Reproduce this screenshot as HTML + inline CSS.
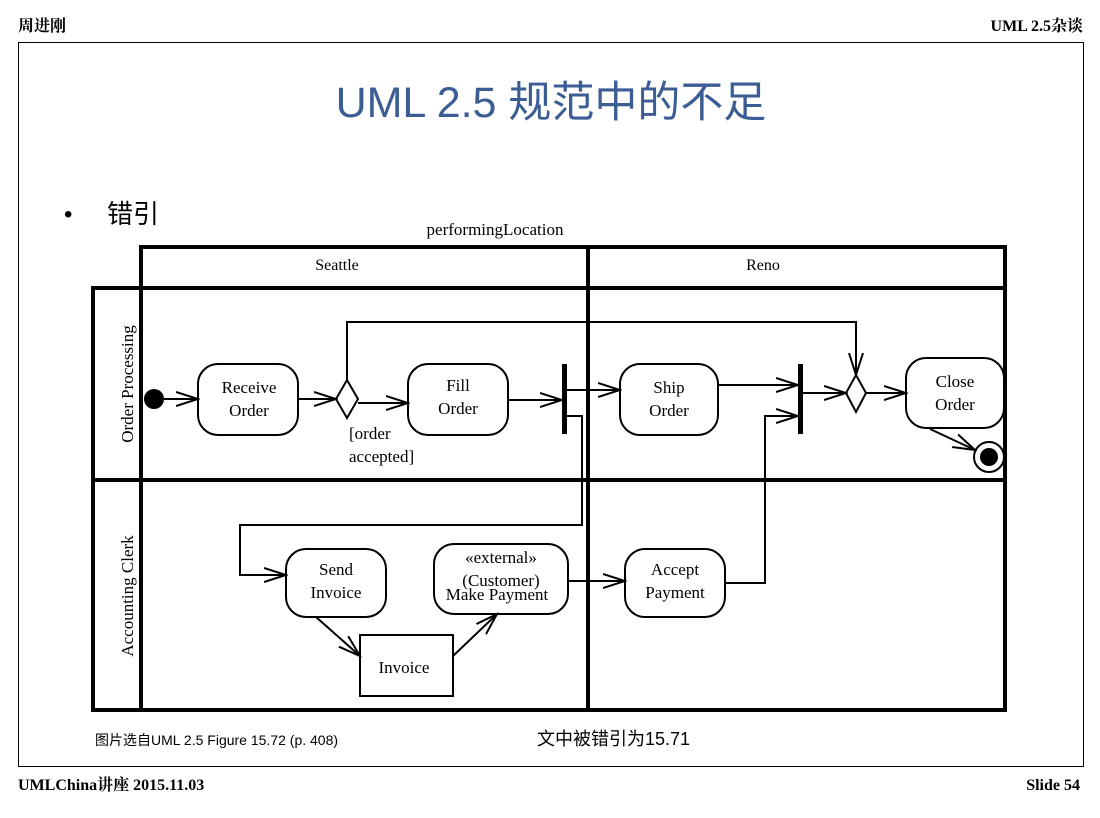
<!DOCTYPE html>
<html><head><meta charset="utf-8"><style>
body{margin:0;background:#fff;width:1100px;height:818px;overflow:hidden}
svg{display:block}
.s{font-family:"Liberation Serif","Noto Serif CJK SC",serif}
.a{font-family:"Liberation Sans","Noto Sans CJK SC",sans-serif}
</style></head><body>
<svg width="1100" height="818" viewBox="0 0 1100 818">
<defs>
<marker id="ar" markerWidth="24" markerHeight="16" refX="22" refY="8" orient="auto" markerUnits="userSpaceOnUse">
<polyline points="0,1 22,8 0,15" fill="none" stroke="#000" stroke-width="2"/>
</marker>
</defs>
<text x="18" y="31" class="s" font-size="16" font-weight="bold">周进刚</text>
<text x="1083" y="31" class="s" font-size="16" font-weight="bold" text-anchor="end">UML 2.5杂谈</text>
<rect x="18.5" y="42.5" width="1065" height="724" fill="none" stroke="#000" stroke-width="1"/>
<text x="18" y="790" class="s" font-size="16" font-weight="bold">UMLChina讲座 2015.11.03</text>
<text x="1080" y="790" class="s" font-size="16" font-weight="bold" text-anchor="end">Slide   54</text>
<text x="551" y="117" class="a" font-size="43" fill="#3b5d93" text-anchor="middle">UML 2.5 规范中的不足</text>
<text x="64" y="222" class="a" font-size="24">•</text>
<text x="107" y="223" class="a" font-size="26">错引</text>
<text x="495" y="235" class="s" font-size="17" text-anchor="middle">performingLocation</text>
<g fill="none" stroke="#000" stroke-width="4">
<rect x="141" y="247" width="864" height="41"/>
<rect x="93" y="288" width="912" height="422"/>
<line x1="141" y1="247" x2="141" y2="710"/>
<line x1="588" y1="247" x2="588" y2="710"/>
<line x1="93" y1="480" x2="1005" y2="480"/>
</g>
<text x="337" y="270" class="s" font-size="16" text-anchor="middle">Seattle</text>
<text x="763" y="270" class="s" font-size="16" text-anchor="middle">Reno</text>
<text transform="translate(133,384) rotate(-90)" class="s" font-size="17" text-anchor="middle">Order Processing</text>
<text transform="translate(133,596) rotate(-90)" class="s" font-size="17" text-anchor="middle">Accounting Clerk</text>
<g fill="#fff" stroke="#000" stroke-width="2">
<rect x="198" y="364" width="100" height="71" rx="20"/>
<rect x="408" y="364" width="100" height="71" rx="20"/>
<rect x="620" y="364" width="98" height="71" rx="20"/>
<rect x="906" y="358" width="98" height="70" rx="20"/>
<rect x="286" y="549" width="100" height="68" rx="20"/>
<rect x="434" y="544" width="134" height="70" rx="20"/>
<rect x="625" y="549" width="100" height="68" rx="20"/>
<rect x="360" y="635" width="93" height="61"/>
<polygon points="347,380 358,399 347,418 336,399"/>
<polygon points="856,375 866,393 856,412 846,393"/>
<circle cx="989" cy="457" r="15"/>
</g>
<circle cx="154" cy="399" r="10"/>
<circle cx="989" cy="457" r="9"/>
<rect x="562" y="364" width="5" height="70"/>
<rect x="798" y="364" width="5" height="70"/>
<g fill="none" stroke="#000" stroke-width="2" marker-end="url(#ar)">
<line x1="164" y1="399" x2="198" y2="399"/>
<line x1="298" y1="399" x2="336" y2="399"/>
<line x1="358" y1="403" x2="408" y2="403"/>
<line x1="508" y1="400" x2="562" y2="400"/>
<polyline points="347,380 347,322 856,322 856,375"/>
<line x1="567" y1="390" x2="620" y2="390"/>
<line x1="718" y1="385" x2="798" y2="385"/>
<line x1="803" y1="393" x2="846" y2="393"/>
<line x1="866" y1="393" x2="906" y2="393"/>
<line x1="930" y1="429" x2="975" y2="450"/>
<polyline points="567,416 582,416 582,525 240,525 240,575 286,575"/>
<line x1="316" y1="617" x2="360" y2="656"/>
<line x1="453" y1="656" x2="497" y2="614"/>
<line x1="568" y1="581" x2="625" y2="581"/>
<polyline points="725,583 765,583 765,416 798,416"/>
</g>
<g class="s" font-size="17" text-anchor="middle">
<text x="249" y="393">Receive</text><text x="249" y="416">Order</text>
<text x="458" y="391">Fill</text><text x="458" y="414">Order</text>
<text x="669" y="393">Ship</text><text x="669" y="416">Order</text>
<text x="955" y="387">Close</text><text x="955" y="410">Order</text>
<text x="336" y="575">Send</text><text x="336" y="598">Invoice</text>
<text x="501" y="563">«external»</text><text x="501" y="586">(Customer)</text><text x="497" y="600">Make Payment</text>
<text x="675" y="575">Accept</text><text x="675" y="598">Payment</text>
<text x="404" y="673">Invoice</text>
<text x="349" y="439" text-anchor="start">[order</text>
<text x="349" y="462" text-anchor="start">accepted]</text>
</g>
<text x="95" y="745" class="a" font-size="14">图片选自UML 2.5 Figure 15.72 (p. 408)</text>
<text x="537" y="745" class="a" font-size="18">文中被错引为15.71</text>
</svg>
</body></html>
